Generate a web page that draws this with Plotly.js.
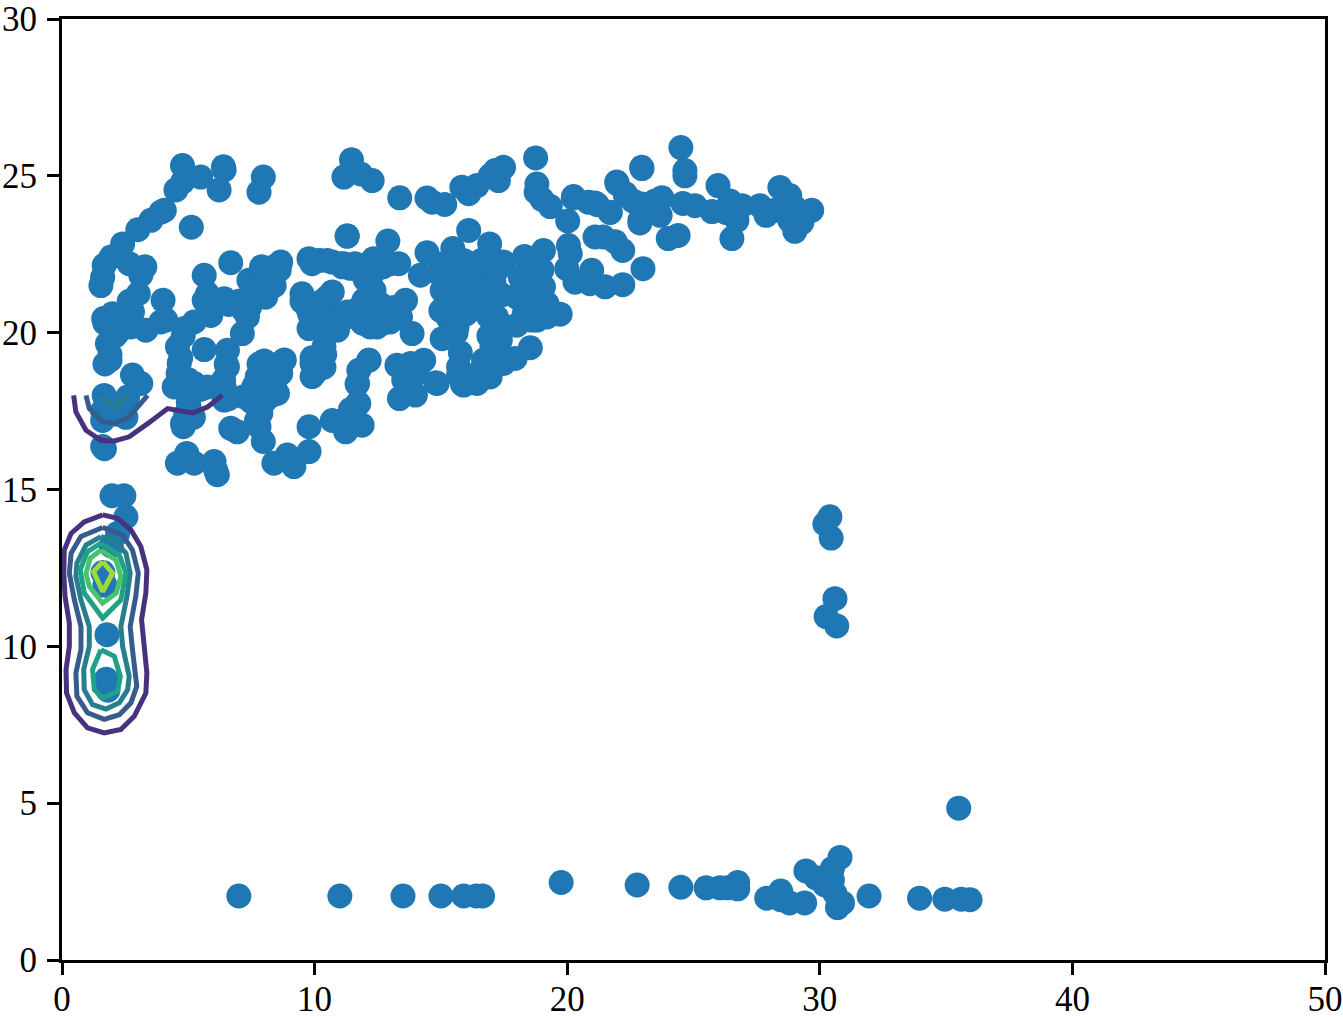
<!DOCTYPE html>
<html>
<head>
<meta charset="utf-8">
<script src="https://cdn.plot.ly/plotly-3.0.1.min.js"></script>
<style>html,body{margin:0;padding:0;background:#fff}</style>
</head>
<body>
<div id="chart" style="width:1343px;height:1017px"></div>
<script>
// bottom row and lone points
let bottomX = [7.0,11.0,13.5,15.0,15.9,16.4,16.65,19.76,22.77,24.5,25.5,26.05,26.35,26.75,26.75,27.9,28.45,28.45,28.8,29.4,29.45,29.85,30.2,30.5,30.5,30.8,30.6,30.9,30.7,31.95,33.95,34.95,35.6,35.95,35.5];
let bottomY = [2.04,2.04,2.04,2.04,2.04,2.04,2.04,2.47,2.39,2.32,2.3,2.3,2.3,2.47,2.27,1.97,2.2,1.92,1.82,1.82,2.84,2.62,2.39,2.55,2.92,3.27,2.12,1.82,1.67,2.04,1.97,1.94,1.94,1.92,4.84];
let sideX = [30.4,30.2,30.45,30.6,30.25,30.67];
let sideY = [14.13,13.9,13.45,11.52,10.95,10.65];
// column under the big cluster, on the left
let colX = [1.98,2.45,2.53,2.2,1.95,1.62,1.7,1.78,1.75,1.82];
let colY = [14.8,14.8,14.13,13.6,13.2,12.35,11.95,10.37,8.95,8.6];
// upper left cluster
let leftX = [4.77,5.49,6.39,6.42,6.22,4.51,4.77,7.97,7.8,5.12,4.05,3.91,3.52,3.0,2.4,1.94,1.67,1.61,1.54,2.66,3.28,3.12,3.02,2.66,4.0,1.65,1.94,1.8,1.9,2.79,2.73,3.32,3.91,4.11,2.79,3.12,1.67,2.6,1.61,2.53,1.68,1.61,5.63,6.68,5.76,6.42,5.63,5.89,5.23,4.84,4.57,5.63,6.55,6.55,4.64,4.44,5.23,5.76,6.42,6.42,4.77,5.03,6.68,6.94,4.57,4.94,5.23,6.02,6.09,6.15,7.4,7.87,8.66,8.39,8.06,7.43,7.14,7.34,7.87,8.0,8.8,7.73,8.66,7.73,8.53,7.2,7.87,7.8,7.97,8.39,8.92,9.18,9.78,9.78,10.7,11.23,11.88,11.7,11.7,11.75,12.15,9.78,10.7,11.29,11.6,12.35,9.5,9.7,9.78,10.37,10.9,11.29,10.5,10.37,9.9,10.37,9.9,11.16,10.2,12.2,12.2,12.6,12.85];
let leftY = [25.33,24.96,25.29,25.19,24.55,24.55,24.8,24.96,24.48,23.36,23.9,23.84,23.58,23.28,22.83,22.41,22.15,21.77,21.5,22.2,22.1,21.83,21.24,21.0,21.03,20.45,20.18,19.65,19.12,20.66,20.18,20.08,20.34,20.4,18.65,18.38,18.0,17.95,17.2,17.3,16.3,16.37,21.83,22.23,21.24,21.08,21.03,20.55,20.34,20.13,19.55,19.46,19.44,18.91,19.02,18.27,18.38,18.27,18.27,17.85,17.1,17.64,16.95,16.84,15.84,16.15,15.84,15.89,15.6,15.47,21.67,21.77,22.25,22.1,21.13,20.82,19.97,20.5,18.96,19.1,19.13,18.6,18.7,18.06,18.06,17.96,17.43,17.0,16.53,15.84,16.1,15.73,16.21,17.0,17.2,16.84,17.05,17.75,18.38,18.8,19.12,22.36,22.25,23.08,22.2,22.25,21.24,20.82,20.13,20.08,20.13,20.5,21.13,19.55,19.02,18.9,18.6,22.2,22.3,20.7,20.18,20.9,20.5];
// points that fill the dense part on the left
let leftFillX = [7.5,7.0,8.4,7.9,6.6,7.2,8.6,7.9,1.7,2.1,1.9,2.2,2.4,1.7,2.0,4.8,4.7,4.6,5.0,5.5,5.0,4.9,4.8,5.2,6.5,6.4,6.6,8.0,8.2,7.8,8.4,8.2,7.6,7.5,8.0,7.7,8.3,10.0,10.2,10.4,9.9,9.8,9.5,10.1,10.5,10.9,10.3,10.7,11.2,11.6,11.1,10.5,9.9,1.6,2.2,1.9];
let leftFillY = [21.3,21.0,21.5,21.4,20.9,20.7,22.0,22.1,20.3,19.9,19.3,20.0,20.3,19.0,20.6,19.9,19.2,18.7,18.5,18.2,17.8,17.4,17.0,17.3,19.0,18.5,17.9,18.4,19.0,19.0,18.3,18.6,18.3,17.8,17.8,17.2,18.0,18.7,19.0,19.3,19.2,20.6,21.0,20.4,20.3,20.6,21.0,21.3,20.6,20.7,22.1,22.3,22.2,17.5,17.4,17.6];
// middle cluster
let midX = [11.46,11.16,11.82,12.28,13.37,14.45,14.65,15.15,15.83,16.1,16.43,16.95,17.28,17.48,17.15,18.75,18.8,18.77,19.0,19.33,20.02,20.25,20.84,21.1,21.7,21.96,22.3,22.95,22.88,22.95,11.29,12.9,14.45,15.47,16.1,16.93,17.48,18.31,19.06,20.05,20.12,19.98,20.31,20.97,20.9,21.5,22.2,23.0,21.1,21.43,21.9,22.2,11.03,12.34,13.33,14.19,11.42,12.08,11.95,12.47,13.0,13.6,13.13,10.9,11.29,13.86,15.05,15.37,16.16,16.69,17.22,15.9,16.56,17.09,15.5,16.16,16.82,15.3,15.64,15.05,17.09,17.35,17.02,15.77,18.54,17.94,17.48,16.95,16.69,16.43,15.9,15.7,13.26,14.32,13.8,14.85,14.06,13.53,13.36,13.99,12.15,11.68,11.75,11.42,18.0,18.8,19.72,19.2,18.53,19.06,18.14,18.53,18.0,15.7,15.85,14.8];
let midY = [25.51,24.96,25.06,24.85,24.3,24.29,24.16,24.09,24.64,24.43,24.69,25.0,24.85,25.27,25.17,25.57,24.74,24.48,24.25,24.02,23.56,24.34,24.16,24.13,23.84,24.8,24.43,25.27,23.58,24.1,23.08,22.92,22.55,22.68,23.26,22.83,22.25,22.43,22.62,22.78,22.52,22.04,21.61,21.99,21.56,21.46,21.53,22.04,23.05,23.05,22.9,22.62,22.2,22.36,22.2,21.83,22.05,21.88,21.03,20.18,20.34,21.03,20.8,20.08,20.66,19.97,21.35,21.88,22.2,21.77,21.99,21.56,21.35,21.14,20.82,20.71,20.82,20.45,20.18,19.81,20.08,19.76,19.55,19.36,19.52,19.18,19.02,18.59,19.12,18.38,18.33,18.91,18.96,19.12,19.02,18.38,18.7,18.49,17.9,18.01,19.12,18.36,17.74,17.55,20.24,20.4,20.59,20.93,20.93,21.46,21.77,22.1,21.14,18.65,18.36,18.4];
// points that fill the dense middle
let midFillX = [12.0,12.3,12.7,13.0,12.6,12.2,12.8,13.3,12.0,11.9,12.7,13.4,14.9,15.2,15.6,15.9,16.2,15.6,16.0,16.4,16.0,15.4,16.7,17.1,17.4,16.9,15.7,15.9,15.1,16.6,17.0,16.3,15.0,15.6,17.2,16.9,17.0,16.8,17.2,16.6,18.4,18.7,18.9,19.2,18.3,18.6,18.9,18.2,18.6,19.0,12.34,12.35,11.95];
let midFillY = [21.7,21.9,22.1,22.2,20.9,20.7,20.6,20.7,20.6,20.3,20.3,20.5,21.9,21.5,22.1,21.9,21.8,21.3,21.0,21.1,20.6,21.0,21.0,21.6,21.2,20.5,20.5,22.3,22.2,22.3,22.3,21.5,20.7,20.0,20.5,19.9,19.3,19.0,19.0,18.8,21.3,21.0,20.7,20.5,20.6,20.4,21.6,21.4,21.7,22.0,20.9,21.35,20.5];
// far right of the upper band
let rightX = [20.24,21.19,21.98,22.3,21.7,22.96,22.6,22.88,23.08,23.48,23.75,23.68,24.0,24.39,24.5,24.66,24.66,24.58,25.06,25.73,25.97,26.28,26.44,26.52,26.72,26.92,27.63,27.87,28.42,28.81,29.01,28.81,29.01,29.29,29.4,29.68,28.22];
let rightY = [24.3,24.08,24.75,24.4,23.83,25.23,24.2,23.5,24.05,24.2,24.3,23.74,23.0,23.1,25.9,25.17,25.0,24.12,24.05,23.86,24.69,23.83,24.2,23.0,23.58,24.05,24.05,23.74,24.63,24.37,23.99,23.58,23.23,23.51,23.8,23.9,23.9];

// contour paths, one per level
let c1aX = [1.61,0.88,0.36,0.09,0.07,0.12,0.29,0.29,0.16,0.18,0.49,1.01,1.67,2.33,2.86,3.32,3.36,3.25,3.15,3.32,3.36,3.12,2.73,2.2,1.61];
let c1aY = [14.19,13.97,13.6,13.07,12.33,11.59,10.74,10.0,9.26,8.51,7.88,7.4,7.24,7.35,7.77,8.51,9.15,10.0,10.85,11.7,12.44,13.18,13.71,14.08,14.19];
let c1bX = [0.46,0.55,0.95,1.54,2.07,2.66,3.39,4.18,5.17,5.76,6.35];
let c1bY = [18.0,17.47,16.89,16.57,16.55,16.68,17.1,17.58,17.44,17.63,18.0];
let c2aX = [1.61,0.75,0.36,0.29,0.49,0.75,0.75,0.55,0.59,1.01,1.67,2.27,2.73,2.96,2.79,2.7,2.92,3.02,2.79,2.4,1.61];
let c2aY = [13.79,13.5,12.97,12.33,11.48,10.63,9.89,9.15,8.41,7.88,7.67,7.82,8.2,8.73,9.89,10.63,11.59,12.33,13.07,13.55,13.79];
let c2bX = [0.95,1.08,1.61,2.07,2.66,3.39];
let c2bY = [18.0,17.58,17.16,17.1,17.32,18.0];
let c3aX = [1.54,0.95,0.59,0.55,0.75,1.08,1.08,0.86,0.88,1.21,1.74,2.27,2.6,2.66,2.4,2.33,2.57,2.7,2.53,2.07,1.54];
let c3aY = [13.5,13.23,12.65,12.23,11.48,10.63,10.0,9.26,8.62,8.14,8.0,8.2,8.62,9.04,10.0,10.63,11.59,12.33,12.97,13.39,13.5];
let c3bX = [1.52,2.13,2.62];
let c3bY = [17.95,17.63,18.0];
let c4aX = [1.54,1.01,0.72,0.88,1.61,2.33,2.53,2.27,1.54];
let c4aY = [13.29,13.02,12.44,11.7,10.9,11.48,12.33,12.91,13.29];
let c4bX = [1.54,1.21,1.28,1.61,2.2,2.31,2.07,1.54];
let c4bY = [9.89,9.26,8.62,8.35,8.57,9.04,9.68,9.89];
let c5X = [1.54,1.12,0.95,1.08,1.61,2.14,2.33,2.14,1.54];
let c5Y = [13.07,12.81,12.33,11.91,11.38,11.69,12.23,12.75,13.07];
let c6X = [1.61,1.25,1.61,2.0,1.61];
let c6Y = [12.7,12.38,11.75,12.33,12.7];

let xTicks = [0,10,20,30,40,50];
let yTicks = [0,5,10,15,20,25,30];

function contourLine(x, y, color) {
    return {
        x: x,
        y: y,
        mode: 'lines',
        type: 'scatter',
        hoverinfo: 'skip',
        showlegend: false,
        cliponaxis: false,
        line: {color: color, width: 5}
    };
}

let dots = {
    x: [].concat(bottomX, sideX, colX, leftX, leftFillX, midX, midFillX, rightX),
    y: [].concat(bottomY, sideY, colY, leftY, leftFillY, midY, midFillY, rightY),
    mode: 'markers',
    type: 'scatter',
    hoverinfo: 'skip',
    showlegend: false,
    marker: {size: 25, color: '#1f77b4', line: {width: 0}}
};

let data = [
    dots,
    contourLine(c1aX, c1aY, '#46327e'),
    contourLine(c1bX, c1bY, '#46327e'),
    contourLine(c2aX, c2aY, '#365c8d'),
    contourLine(c2bX, c2bY, '#365c8d'),
    contourLine(c3aX, c3aY, '#277f8e'),
    contourLine(c3bX, c3bY, '#277f8e'),
    contourLine(c4aX, c4aY, '#1fa187'),
    contourLine(c4bX, c4bY, '#1fa187'),
    contourLine(c5X, c5Y, '#4ac16d'),
    contourLine(c6X, c6Y, '#a0da39')
];

let axisStyle = {
    showgrid: false,
    zeroline: false,
    showline: true,
    mirror: true,
    linecolor: '#000',
    linewidth: 3,
    ticks: 'outside',
    ticklen: 12,
    tickwidth: 3,
    tickcolor: '#000',
    tickmode: 'array',
    ticklabeloverflow: 'allow',
    tickfont: {family: 'Liberation Serif', size: 35, color: '#000'}
};

let layout = {
    width: 1343,
    height: 1017,
    margin: {l: 62, r: 18, t: 19, b: 57, pad: 0},
    paper_bgcolor: '#fff',
    plot_bgcolor: '#fff',
    xaxis: Object.assign({}, axisStyle, {range: [0, 50], tickvals: xTicks, ticktext: xTicks.map(String), ticklabelstandoff: -6}),
    yaxis: Object.assign({}, axisStyle, {range: [0, 30], tickvals: yTicks, ticktext: yTicks.map(String), ticklabelstandoff: 3})
};

Plotly.newPlot('chart', data, layout, {displayModeBar: false});
</script>
</body>
</html>
